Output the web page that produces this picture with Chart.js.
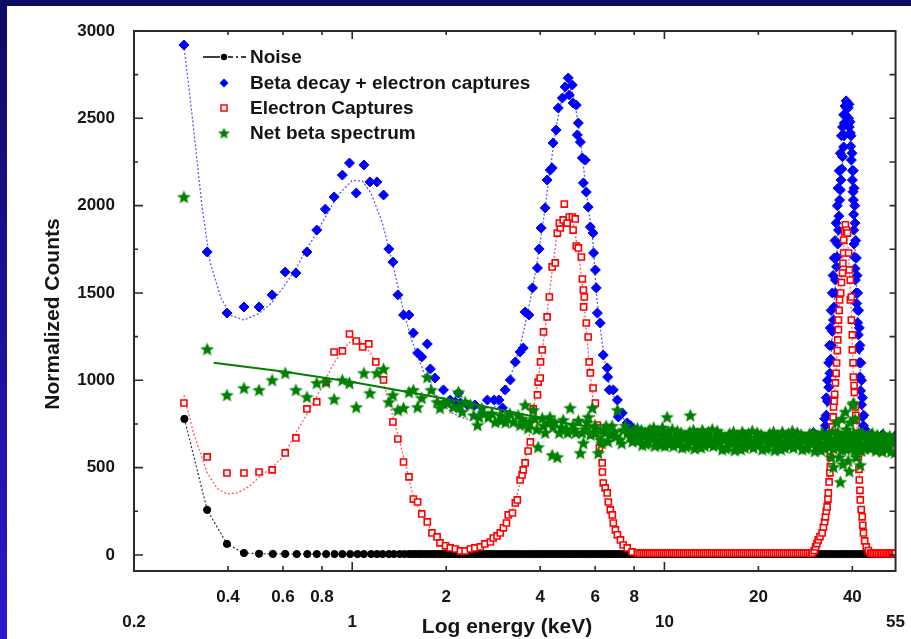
<!DOCTYPE html>
<html>
<head>
<meta charset="utf-8">
<title>Normalized Counts vs Log energy</title>
<script src="https://cdn.jsdelivr.net/npm/chart.js@4.4.1/dist/chart.umd.min.js"></script>
<style>
  html, body { margin: 0; padding: 0; }
  body { width: 911px; height: 639px; overflow: hidden; position: relative; background: linear-gradient(#0b0c62, #2b17cc); }
  #sheet { position: absolute; left: 7px; top: 6px; width: 904px; height: 633px; background: #fff; }
  canvas { display: block; }
</style>
</head>
<body>
<div id="sheet"><canvas id="spectrum" width="904" height="633"></canvas></div>
<script>
// Tick values
let xTicks = [0.2, 0.4, 0.6, 0.8, 1, 2, 4, 6, 8, 10, 20, 40, 55];
let xLowRow = [0.2, 1, 10, 55];
let xMajor = [1, 10];
let xMinor = [0.4, 0.6, 0.8, 2, 4, 6, 8, 20, 40];
let yTicks = [0, 500, 1000, 1500, 2000, 2500, 3000];
let yMinor = [250, 750, 1250, 1750, 2250, 2750];

// Series labels
let labels = ['Noise', 'Beta decay + electron captures', 'Electron Captures', 'Net beta spectrum'];

// Noise [keV, counts]
let noise = [[0.29,779],[0.343,258],[0.397,63],[0.45,11],[0.503,7],[0.557,6],[0.61,6],[0.664,5],[0.718,5],[0.77,5],
  [0.825,5],[0.878,5],[0.93,5],[0.985,5],[1.04,5],[1.09,5],[1.15,5],[1.2,5],[1.25,5],[1.31,5],[1.36,5],[1.42,5],
  [1.47,5],[1.52,5],[1.56,5],[1.59,5],[1.63,5],[1.66,5],[1.7,5],[1.74,5],[1.78,5],[1.82,5],[1.86,5],[1.9,5],[1.94,5],
  [1.98,5],[2.03,5],[2.07,5],[2.12,5],[2.17,5],[2.21,5],[2.26,5],[2.31,5],[2.36,5],[2.42,5],[2.47,5],[2.52,5],
  [2.58,5],[2.64,5],[2.7,5],[2.76,5],[2.82,5],[2.88,5],[2.94,5],[3.01,5],[3.08,5],[3.14,5],[3.21,5],[3.28,5],
  [3.36,5],[3.43,5],[3.51,5],[3.59,5],[3.67,5],[3.75,5],[3.83,5],[3.92,5],[4.0,5],[4.09,5],[4.18,5],[4.28,5],
  [4.37,5],[4.47,5],[4.57,5],[4.67,5],[4.78,5],[4.88,5],[4.99,5],[5.1,5],[5.22,5],[5.33,5],[5.45,5],[5.58,5],
  [5.7,5],[5.83,5],[5.96,5],[6.09,5],[6.23,5],[6.37,5],[6.51,5],[6.65,5],[6.8,5],[6.95,5],[7.11,5],[7.27,5],
  [7.43,5],[7.6,5],[7.77,5],[7.94,5],[8.12,5],[8.3,5],[8.48,5],[8.67,5],[8.87,5],[9.07,5],[9.27,5],[9.48,5],
  [9.69,5],[9.9,5],[10.1,5],[10.35,5],[10.6,5],[10.85,5],[11.1,5],[11.35,5],[11.6,5],[11.85,5],[12.1,5],[12.4,5],
  [12.7,5],[13.0,5],[13.3,5],[13.6,5],[13.9,5],[14.2,5],[14.5,5],[14.8,5],[15.1,5],[15.4,5],[15.75,5],[16.1,5],
  [16.45,5],[16.8,5],[17.2,5],[17.6,5],[18.0,5],[18.4,5],[18.8,5],[19.2,5],[19.6,5],[20.0,5],[20.5,5],[21.0,5],
  [21.5,5],[22.0,5],[22.5,5],[23.0,5],[23.5,5],[24.0,5],[24.5,5],[25.0,5],[25.6,5],[26.2,5],[26.8,5],[27.4,5],
  [28.0,5],[28.6,5],[29.2,5],[29.8,5],[30.5,5],[31.2,5],[31.9,5],[32.6,5],[33.3,5],[34.0,5],[34.8,5],[35.6,5],
  [36.4,5],[37.2,5],[38.0,5],[38.8,5],[39.7,5],[40.6,5],[41.5,5],[42.4,5],[43.3,5],[44.3,5],[45.3,5],[46.3,5],
  [47.3,5],[48.4,5],[49.5,5],[50.6,5],[51.7,5],[52.9,5],[54.0,5],[55,5]];

// Beta decay + electron captures [keV, counts]
let betaEc = [[0.289,2920],[0.343,1735],[0.397,1385],[0.45,1420],[0.503,1420],[0.554,1489],[0.61,1620],[0.66,1614],
  [0.716,1735],[0.77,1860],[0.82,1980],[0.875,2050],[0.93,2175],[0.98,2244],[1.03,2072],[1.09,2233],[1.14,2136],
  [1.2,2136],[1.26,2061],[1.31,1752],[1.35,1677],[1.4,1489],[1.46,1374],[1.52,1374],[1.57,1271],[1.62,1156],
  [1.67,1134],[1.74,1208],[1.78,1065],[1.84,1013],[1.96,945],[2.06,887],[2.14,876],[2.19,927],[2.22,870],[2.34,859],
  [2.47,859],[2.71,887],[2.85,887],[2.95,887],[3.03,842],[3.09,945],[3.21,1002],[3.33,1105],[3.45,1162],[3.53,1185],
  [3.58,1391],[3.68,1374],[3.78,1529],[3.92,1643],[3.97,1752],[4.03,1872],[4.15,1987],[4.21,2147],[4.31,2204],
  [4.37,2216],[4.4,2359],[4.5,2433],[4.57,2559],[4.71,2616],[4.81,2680],[4.92,2731],[4.96,2634],[5.07,2691],
  [5.1,2588],[5.22,2576],[5.26,2405],[5.3,2473],[5.38,2364],[5.46,2273],[5.5,2130],[5.58,2261],[5.62,2078],
  [5.7,1992],[5.79,1878],[5.91,1843],[5.93,1729],[6.01,1632],[6.05,1529],[6.1,1385],[6.23,1328],[6.37,1145],
  [6.56,1071],[6.58,1019],[6.66,945],[6.86,945],[7.07,887],[7.12,790],[7.33,813],[7.6,756],[7.78,740],[8.2,700],
  [9,690],[10,695],[12,690],[15,685],[18,690],[22,685],[26,690],[30,700],
  [32.5,700],[32.6,780],[32.8,740],[33.0,800],[33.0,900],[33.3,880],[33.3,1000],[33.6,960],[33.6,1100],
  [33.8,1200],[33.9,1040],[34.0,1300],[34.1,1120],[34.2,1400],[34.3,1200],[34.5,1280],[34.5,1500],[34.7,1600],
  [34.8,1345],[35.0,1420],[35.0,1700],[35.2,1800],[35.3,1500],[35.3,1574],[35.5,1900],[35.6,1650],[35.7,1706],
  [35.8,2000],[35.9,1780],[36.0,2100],[36.1,1860],[36.2,1940],[36.3,2200],[36.4,2032],[36.6,2090],[36.6,2300],
  [36.8,2147],[36.9,2400],[37.0,2210],[37.2,2280],[37.2,2450],[37.5,2336],[37.5,2520],[37.6,2400],[37.7,2473],
  [37.9,2570],[38.0,2520],[38.2,2600],[38.3,2560],[38.4,2580],[38.6,2588],[38.8,2560],[38.9,2500],[39.0,2580],
  [39.1,2450],[39.3,2480],[39.4,2416],[39.5,2340],[39.6,2400],[39.7,2261],[39.9,2300],[40.0,2200],[40.0,2147],
  [40.2,2080],[40.3,2200],[40.3,2032],[40.4,1950],[40.4,1860],[40.5,2100],[40.5,1780],[40.6,1706],[40.7,2000],
  [40.8,1640],[40.8,1900],[40.9,1574],[41.0,1800],[41.1,1500],[41.2,1700],[41.3,1440],[41.4,1600],[41.5,1403],
  [41.6,1500],[41.6,1330],[41.8,1260],[41.9,1400],[42.0,1180],[42.1,1300],[42.1,1100],[42.3,1200],[42.3,1020],
  [42.5,940],[42.6,1100],[42.8,1000],[42.8,860],[43.1,900],[43.1,790],[43.4,740],[43.5,800],[43.9,720],[44.2,700],
  [46,690],[50,690],[55,685]];

// Smoothed trace through beta decay + electron captures
let betaEcFit = [[0.289,2920],[0.31,2450],[0.33,2000],[0.35,1680],[0.38,1470],[0.41,1370],[0.45,1345],[0.5,1380],
  [0.55,1440],[0.6,1530],[0.65,1620],[0.7,1720],[0.8,1900],[0.9,2060],[1.0,2145],[1.08,2140],[1.15,2070],
  [1.25,1900],[1.35,1660],[1.45,1420],[1.55,1230],[1.7,1040],[1.9,880],[2.1,810],[2.3,780],[2.44,773],[2.7,800],
  [2.9,860],[3.1,950],[3.3,1080],[3.5,1240],[3.7,1440],[3.9,1660],[4.1,1920],[4.3,2200],[4.5,2450],[4.7,2620],
  [4.9,2700],[5.1,2640],[5.3,2470],[5.5,2230],[5.7,1990],[5.9,1800],[6.05,1500],[6.2,1330],[6.4,1140],[6.6,1000],
  [6.85,920],[7.1,850],[7.4,780],[7.8,730],[8.3,700],[12,690],[30,700],[32.8,740],[34.8,1345],[36.4,2032],
  [38.6,2588],[40.3,2032],[41.5,1403],[43.4,740],[45,695],[55,685]];

// Electron captures [keV, counts]
let elCapture = [[0.289,870],[0.343,561],[0.397,469],[0.45,469],[0.503,475],[0.554,487],[0.61,584],[0.66,670],
  [0.716,836],[0.77,876],[0.825,990],[0.875,1162],[0.93,1168],[0.98,1265],[1.03,1225],[1.08,1191],[1.13,1208],
  [1.19,1105],[1.26,1002],[1.35,761],[1.4,664],[1.46,532],[1.52,447],[1.57,320],[1.62,303],[1.67,235],[1.74,189],
  [1.8,126],[1.87,103],[1.91,69],[1.99,52],[2.06,40],[2.14,34],[2.22,23],[2.3,23],[2.39,34],[2.47,40],[2.57,46],
  [2.66,63],[2.77,74],[2.83,97],[2.91,109],[2.98,126],[3.05,155],[3.12,183],[3.16,229],[3.26,240],[3.33,298],
  [3.38,315],[3.45,429],[3.5,458],[3.53,487],[3.58,527],[3.66,595],[3.72,647],[3.8,836],[3.92,916],[3.94,990],
  [4.0,1013],[4.01,1105],[4.06,1174],[4.1,1277],[4.21,1363],[4.28,1477],[4.37,1649],[4.47,1672],[4.54,1843],
  [4.64,1872],[4.61,1900],[4.74,1918],[4.78,2009],[4.88,1900],[4.96,1935],[5.07,1935],[5.18,1924],[5.1,1860],
  [5.22,1769],[5.3,1758],[5.42,1706],[5.46,1580],[5.5,1517],[5.54,1477],[5.51,1420],[5.62,1328],[5.7,1248],
  [5.74,1105],[5.79,1042],[5.91,956],[6.01,870],[6.1,744],[6.19,613],[6.32,527],[6.33,475],[6.37,412],[6.46,384],
  [6.56,355],[6.61,303],[6.71,258],[6.81,229],[6.86,183],[6.97,143],[7.07,115],[7.23,86],[7.38,57],[7.6,40],
  [7.88,17],[8.18,11],[8.3,10],[8.42,10],[8.55,10],[8.68,10],[8.81,10],[8.94,10],[9.07,10],[9.21,10],[9.34,10],
  [9.48,10],[9.62,10],[9.77,10],[9.91,10],[10.06,10],[10.21,10],[10.36,10],[10.52,10],[10.67,10],[10.83,10],
  [10.99,10],[11.16,10],[11.32,10],[11.49,10],[11.66,10],[11.84,10],[12.01,10],[12.19,10],[12.37,10],[12.56,10],
  [12.75,10],[12.94,10],[13.13,10],[13.32,10],[13.52,10],[13.72,10],[13.93,10],[14.13,10],[14.34,10],[14.56,10],
  [14.77,10],[14.99,10],[15.22,10],[15.44,10],[15.67,10],[15.91,10],[16.14,10],[16.38,10],[16.63,10],[16.87,10],
  [17.12,10],[17.38,10],[17.64,10],[17.9,10],[18.17,10],[18.44,10],[18.71,10],[18.99,10],[19.27,10],[19.56,10],
  [19.85,10],[20.15,10],[20.45,10],[20.75,10],[21.06,10],[21.37,10],[21.69,10],[22.01,10],[22.34,10],[22.67,10],
  [23.01,10],[23.35,10],[23.7,10],[24.05,10],[24.41,10],[24.77,10],[25.14,10],[25.51,10],[25.89,10],[26.28,10],
  [26.67,10],[27.06,10],[27.47,10],[27.87,10],[28.29,10],[28.71,10],[29.13,10],[29.56,10],
  [29.8,11],[30.2,25],[30.5,46],[30.8,65],[31.1,86],[31.5,105],[32.0,126],[32.3,160],[32.6,190],[32.8,218],
  [33.0,250],[33.2,275],[33.4,320],[33.5,355],[33.7,418],[33.9,470],[34.0,504],[34.0,560],[34.2,618],[34.3,680],
  [34.5,733],[34.7,790],[34.8,847],[35.0,880],[35.1,920],[35.3,985],[35.5,1040],[35.6,1099],[35.8,1170],
  [35.9,1231],[36.1,1290],[36.1,1345],[36.3,1400],[36.4,1460],[36.7,1500],[36.9,1560],[37.2,1614],[37.3,1670],
  [37.5,1729],[37.5,1803],[37.8,1850],[38.0,1890],[38.3,1860],[38.6,1843],[38.9,1729],[39.1,1632],[39.4,1574],
  [39.4,1460],[39.7,1477],[39.7,1345],[40.0,1260],[40.0,1174],[40.2,1100],[40.3,1019],[40.5,970],[40.6,930],
  [40.9,847],[41.0,800],[41.2,770],[41.5,698],[41.6,660],[41.7,620],[41.8,561],[42.0,490],[42.1,429],[42.3,370],
  [42.4,315],[42.7,260],[43.0,218],[43.2,170],[43.4,126],[43.8,80],[44.3,46],[45.0,25],[45.7,11],[46.1,9],
  [46.7,9],[47.3,9],[47.9,9],[48.5,9],[49.1,9],[49.7,9],[50.3,9],[50.9,9],[51.5,9],[52.1,9],[52.7,9],[53.3,9],
  [53.9,9],[54.5,9],[55,9]];

// Smoothed trace through electron captures
let elCaptureFit = [[0.289,916],[0.31,700],[0.343,470],[0.37,380],[0.397,349],[0.43,355],[0.47,395],[0.5,441],
  [0.55,498],[0.6,561],[0.66,700],[0.72,813],[0.8,962],[0.86,1076],[0.93,1174],[1.0,1231],[1.08,1215],[1.15,1150],
  [1.22,1060],[1.3,900],[1.4,690],[1.5,480],[1.57,330],[1.7,210],[1.85,100],[2.0,50],[2.2,28],[2.4,30],[2.6,50],
  [2.8,85],[3.0,135],[3.15,200],[3.3,280],[3.45,410],[3.6,560],[3.75,760],[3.9,950],[4.05,1150],[4.2,1370],
  [4.35,1600],[4.5,1800],[4.7,1920],[4.9,1940],[5.1,1900],[5.3,1740],[5.45,1560],[5.6,1320],[5.75,1080],[5.9,900],
  [6.05,680],[6.2,520],[6.35,400],[6.5,340],[6.65,270],[6.85,180],[7.05,110],[7.3,60],[7.6,30],[8.0,12],[29.8,10],
  [31.1,86],[32.8,218],[34.0,560],[35.3,985],[36.4,1460],[37.5,1760],[38.0,1890],[38.9,1729],[39.7,1400],
  [40.3,1019],[41.5,698],[42.4,315],[43.4,126],[44.3,46],[46,10],[55,9]];

// Net beta spectrum [keV, counts]
let netBeta = [[0.289,2050],[0.343,1179],[0.397,916],[0.45,956],[0.503,945],[0.554,1002],[0.61,1042],[0.66,945],
  [0.716,905],[0.77,985],[0.825,990],[0.875,893],[0.93,1002],[0.98,985],[1.03,847],[1.09,1042],[1.14,927],
  [1.2,1042],[1.26,1065],[1.31,876],[1.35,916],[1.4,830],[1.46,842],[1.52,933],[1.57,945],[1.62,847],[1.67,899],
  [1.74,1019],[1.79,945],[1.87,876],[1.91,842],[1.96,870],[2.02,870],[2.11,847],[2.19,933],[2.2,850],[2.25,820],
  [2.3,876],[2.39,859],[2.45,800],[2.52,744],[2.55,790],[2.6,840],[2.63,813],[2.73,790],[2.8,810],[2.87,761],
  [2.98,801],[3.0,770],[3.1,760],[3.14,790],[3.2,810],[3.28,761],[3.4,800],[3.45,744],[3.5,780],[3.58,859],
  [3.6,760],[3.66,727],[3.7,760],[3.8,830],[3.85,780],[3.9,720],[3.94,618],[4.06,784],[4.1,740],[4.15,700],
  [4.25,756],[4.3,790],[4.37,572],[4.4,733],[4.45,760],[4.54,561],[4.6,700],[4.7,730],[4.74,773],[4.85,720],
  [4.9,700],[4.99,842],[5.1,744],[5.15,720],[5.2,700],[5.3,770],[5.38,584],[5.45,700],[5.5,641],[5.6,720],
  [5.65,760],[5.7,790],[5.8,690],[5.88,842],[5.95,700],[6.0,740],[6.05,700],[6.14,584],[6.25,660],[6.3,640],
  [6.37,716],[6.45,700],[6.5,740],[6.6,650],[6.71,687],[6.8,740],[6.9,700],[7.0,680],[7.07,830],[7.2,660],
  [7.3,640],[7.38,716],[7.5,740],[7.6,700],[7.78,676],[7.9,650],[7.95,690],[8.0,720],[8.07,704],
  [8.2,725],[8.35,665],[8.5,630],[8.66,700],[8.82,645],[8.98,720],[9.15,680],[9.32,625],[9.5,710],[9.67,660],
  [9.85,730],[10.03,625],[10.2,790],[10.22,675],[10.41,635],[10.6,720],[10.8,660],[11.0,710],[11.2,650],
  [11.4,615],[11.62,685],[11.84,630],[12.06,705],[12.1,800],[12.28,665],[12.5,610],[12.74,695],[12.98,645],
  [13.22,715],[13.46,625],[13.71,675],[13.97,635],[14.23,720],[14.49,660],[14.76,710],[15.04,640],[15.32,605],
  [15.6,675],[15.89,620],[16.19,695],[16.49,655],[16.8,600],[17.11,685],[17.43,635],[17.75,705],[18.08,615],
  [18.42,665],[18.76,625],[19.11,710],[19.47,650],[19.83,700],[20.2,640],[20.58,605],[20.96,675],[21.35,620],
  [21.75,695],[22.15,655],[22.56,600],[22.98,685],[23.41,635],[23.85,705],[24.29,615],[24.74,665],[25.2,625],
  [25.67,710],[26.15,650],[26.64,700],[27.14,640],[27.64,605],[28.15,675],[28.68,620],[29.21,695],[29.76,655],
  [30.31,595],[30.87,680],[31.45,630],[32.03,700],[32.63,610],[33.24,660],[33.86,620],[34.2,560],[34.49,705],
  [34.8,504],[35.13,645],[35.4,620],[35.6,760],[35.78,695],[36.0,700],[36.3,560],[36.45,635],[36.6,418],
  [36.8,640],[37.0,780],[37.13,600],[37.3,520],[37.5,680],[37.82,670],[38.0,820],[38.3,720],[38.52,615],
  [38.6,650],[38.8,540],[39.1,480],[39.24,690],[39.4,760],[39.6,620],[39.97,650],[40.1,860],[40.3,870],
  [40.5,620],[40.71,595],[40.8,780],[41.2,560],[41.47,680],[41.6,640],[41.9,700],[42.24,630],[42.4,515],
  [42.6,600],[43.03,700],[43.83,610],[44.65,660],[45.48,612],[46.32,697],[47.19,637],[48.07,687],[48.96,627],
  [49.87,592],[50.8,662],[51.75,607],[52.71,682],[53.69,642],[54.69,587],
  [8.27,655],[8.43,715],[8.58,685],[8.74,635],[8.9,705],[9.07,670],[9.24,730],[9.41,650],[9.59,695],[9.76,630],
  [9.94,710],[10.13,660],[10.32,705],[10.5,645],[10.7,625],[10.9,685],[11.1,640],[11.3,700],[11.51,670],
  [11.73,620],[11.95,690],[12.17,655],[12.39,715],[12.62,635],[12.86,680],[13.1,615],[13.34,695],[13.59,660],
  [13.84,705],[14.1,645],[14.36,625],[14.63,685],[14.9,640],[15.18,690],[15.46,660],[15.75,610],[16.04,680],
  [16.34,645],[16.65,705],[16.96,625],[17.27,670],[17.59,605],[17.92,685],[18.25,650],[18.59,695],[18.94,635],
  [19.29,615],[19.65,675],[20.02,630],[20.39,690],[20.77,660],[21.16,610],[21.55,680],[21.95,645],[22.36,705],
  [22.77,625],[23.2,670],[23.63,605],[24.07,685],[24.52,650],[24.97,695],[25.44,635],[25.91,615],[26.4,675],
  [26.89,630],[27.39,690],[27.9,660],[28.42,610],[28.95,680],[29.49,645],[30.04,700],[30.6,620],[31.16,665],
  [31.74,600],[32.33,680],[32.93,645],[33.55,690],[34.17,630],[34.8,610],[35.45,670],[36.1,625],[36.8,685],
  [37.5,655],[38.2,605],[38.9,675],[39.6,640],[40.3,700],[41.1,620],[41.85,665],[42.65,600],[43.45,680],
  [44.25,645],[45.05,682],[45.9,612],[46.75,657],[47.6,597],[48.5,672],[49.4,637],[50.3,692],[51.3,612],
  [52.2,657],[53.2,592],[54.2,672]];

// Fitted trend of the net beta spectrum
let netBetaFit = [[0.36,1100],[0.6,1050],[1,990],[2.2,880],[5,750],[10,675],[20,650],[55,630]];

// Colours
let black = '#000000';
let blue = '#0000ff';
let red = '#ff0000';
let green = '#008000';
let textColor = '#151515';
let fontFamily = "'Liberation Sans', Arial, sans-serif";

// Turn [x, y] pairs into points for the scatter chart
toPoints = (pairs) => pairs.map(p => ({ x: p[0], y: p[1] }));

// Filled five point star used as marker
makeStar = (size, color) => {
    let c = document.createElement('canvas');
    c.width = size;
    c.height = size;
    let g = c.getContext('2d');
    let outer = size / 2 - 0.3;
    let inner = outer * 0.45;
    g.beginPath();
    for (let i = 0; i < 10; i++) {
        let r = i % 2 ? inner : outer;
        let a = -Math.PI / 2 + i * Math.PI / 5;
        g.lineTo(size / 2 + r * Math.cos(a), size / 2 + r * Math.sin(a) + 0.6);
    }
    g.closePath();
    g.fillStyle = color;
    g.fill();
    return c;
}
let star = makeStar(15, green);
let legendStar = makeStar(13, green);

// Frame, inward tick marks and axis titles
let framePlugin = {
    id: 'frame',
    afterDraw: (chart) => {
        let ctx = chart.ctx;
        let a = chart.chartArea;
        let xs = chart.scales.x;
        let ys = chart.scales.y;
        ctx.save();
        ctx.strokeStyle = '#2a2a2a';
        ctx.lineWidth = 2;
        ctx.strokeRect(a.left, a.top, a.right - a.left, a.bottom - a.top);
        ctx.lineWidth = 1.6;
        ctx.beginPath();
        yTicks.forEach(v => {
            let p = ys.getPixelForValue(v);
            ctx.moveTo(a.left, p); ctx.lineTo(a.left + 9, p);
            ctx.moveTo(a.right, p); ctx.lineTo(a.right - 6, p);
        });
        yMinor.forEach(v => {
            let p = ys.getPixelForValue(v);
            ctx.moveTo(a.left, p); ctx.lineTo(a.left + 4, p);
            ctx.moveTo(a.right, p); ctx.lineTo(a.right - 6, p);
        });
        xMajor.forEach(v => {
            let p = xs.getPixelForValue(v);
            ctx.moveTo(p, a.bottom); ctx.lineTo(p, a.bottom - 9);
            ctx.moveTo(p, a.top); ctx.lineTo(p, a.top + 8);
        });
        xMinor.forEach(v => {
            let p = xs.getPixelForValue(v);
            ctx.moveTo(p, a.bottom); ctx.lineTo(p, a.bottom - 5);
            ctx.moveTo(p, a.top); ctx.lineTo(p, a.top + 4);
        });
        ctx.stroke();

        // Axis titles
        ctx.fillStyle = textColor;
        ctx.font = 'bold 21px ' + fontFamily;
        ctx.textAlign = 'center';
        ctx.textBaseline = 'middle';
        ctx.fillText('Log energy (keV)', 500, 621);
        ctx.translate(46, 308);
        ctx.rotate(-Math.PI / 2);
        ctx.fillText('Normalized Counts', 0, 0);
        ctx.restore();
    }
};

// Legend drawn inside the plot area
let legendPlugin = {
    id: 'insideLegend',
    afterDraw: (chart) => {
        let ctx = chart.ctx;
        let symX = 217;
        let textX = 243;
        let rows = [51, 77, 102, 127];
        ctx.save();
        // Noise: line - dot - dash dot
        ctx.strokeStyle = black;
        ctx.lineWidth = 1.6;
        ctx.beginPath();
        ctx.moveTo(196, rows[0]); ctx.lineTo(213, rows[0]);
        ctx.moveTo(221, rows[0]); ctx.lineTo(226, rows[0]);
        ctx.moveTo(229, rows[0]); ctx.lineTo(231, rows[0]);
        ctx.moveTo(234, rows[0]); ctx.lineTo(239, rows[0]);
        ctx.stroke();
        ctx.fillStyle = black;
        ctx.beginPath(); ctx.arc(symX, rows[0], 3.2, 0, Math.PI * 2); ctx.fill();
        // Beta decay + electron captures: diamond
        ctx.fillStyle = blue;
        ctx.beginPath();
        ctx.moveTo(symX, rows[1] - 4.5); ctx.lineTo(symX + 4.5, rows[1]);
        ctx.lineTo(symX, rows[1] + 4.5); ctx.lineTo(symX - 4.5, rows[1]);
        ctx.closePath(); ctx.fill();
        // Electron captures: open square
        ctx.strokeStyle = red;
        ctx.lineWidth = 1.5;
        ctx.fillStyle = '#fff';
        ctx.fillRect(symX - 3, rows[2] - 3, 6, 6);
        ctx.strokeRect(symX - 3, rows[2] - 3, 6, 6);
        // Net beta spectrum: star
        ctx.drawImage(legendStar, symX - 6.5, rows[3] - 6.5);
        // Labels
        ctx.fillStyle = textColor;
        ctx.font = 'bold 19px ' + fontFamily;
        ctx.textAlign = 'left';
        ctx.textBaseline = 'middle';
        labels.forEach((t, i) => ctx.fillText(t, textX, rows[i] + 1));
        ctx.restore();
    }
};

// Create the chart
createSpectrum = () => {
    let ctx = document.getElementById('spectrum').getContext('2d');
    let chart = new Chart(ctx, {
        type: 'scatter',
        data: {
            datasets: [{
                label: labels[3],
                data: toPoints(netBeta),
                pointStyle: star,
                pointRadius: 7,
                order: 0
            }, {
                label: 'Net beta fit',
                data: toPoints(netBetaFit),
                showLine: true,
                borderColor: green,
                borderWidth: 2,
                pointRadius: 0,
                order: 1
            }, {
                label: labels[2],
                data: toPoints(elCapture),
                pointStyle: 'rect',
                pointRadius: 4.3,
                borderColor: red,
                backgroundColor: '#ffffff',
                borderWidth: 1.6,
                order: 2
            }, {
                label: 'Electron capture fit',
                data: toPoints(elCaptureFit),
                showLine: true,
                borderColor: '#ff5a5a',
                borderWidth: 1.3,
                borderDash: [2, 2],
                pointRadius: 0,
                order: 3
            }, {
                label: labels[1],
                data: toPoints(betaEc),
                pointStyle: 'rectRot',
                pointRadius: 5,
                borderColor: blue,
                backgroundColor: blue,
                borderWidth: 1,
                order: 4
            }, {
                label: 'Beta fit',
                data: toPoints(betaEcFit),
                showLine: true,
                borderColor: '#5a5aff',
                borderWidth: 1.3,
                borderDash: [2, 2],
                pointRadius: 0,
                order: 5
            }, {
                label: labels[0],
                data: toPoints(noise),
                showLine: true,
                borderColor: '#333333',
                borderWidth: 1.2,
                borderDash: [2, 2],
                pointStyle: 'circle',
                pointRadius: 3.6,
                pointBackgroundColor: black,
                pointBorderColor: black,
                pointBorderWidth: 1,
                order: 6
            }]
        },
        options: {
            responsive: false,
            devicePixelRatio: 1,
            animation: false,
            events: [],
            layout: { padding: { left: 0, top: 25, right: 14, bottom: 0 } },
            plugins: {
                legend: { display: false },
                tooltip: { enabled: false }
            },
            scales: {
                x: {
                    type: 'logarithmic',
                    min: 0.2,
                    max: 55,
                    grid: { display: false },
                    border: { display: false },
                    afterBuildTicks: (scale) => { scale.ticks = xTicks.map(v => ({ value: v })); },
                    afterFit: (scale) => { scale.height = 68; },
                    ticks: {
                        autoSkip: false,
                        maxRotation: 0,
                        padding: 6,
                        color: textColor,
                        font: { family: fontFamily, size: 17, weight: 'bold', lineHeight: 1.47 },
                        callback: (v) => xLowRow.includes(v) ? ['', String(v)] : String(v)
                    }
                },
                y: {
                    min: -92,
                    max: 3000,
                    grid: { display: false },
                    border: { display: false },
                    afterBuildTicks: (scale) => { scale.ticks = yTicks.map(v => ({ value: v })); },
                    afterFit: (scale) => { scale.width = 127; },
                    ticks: {
                        padding: 11,
                        color: textColor,
                        font: { family: fontFamily, size: 17, weight: 'bold' },
                        callback: (v) => String(v)
                    }
                }
            }
        },
        plugins: [framePlugin, legendPlugin]
    });
}

window.addEventListener('load', createSpectrum);
</script>
</body>
</html>
